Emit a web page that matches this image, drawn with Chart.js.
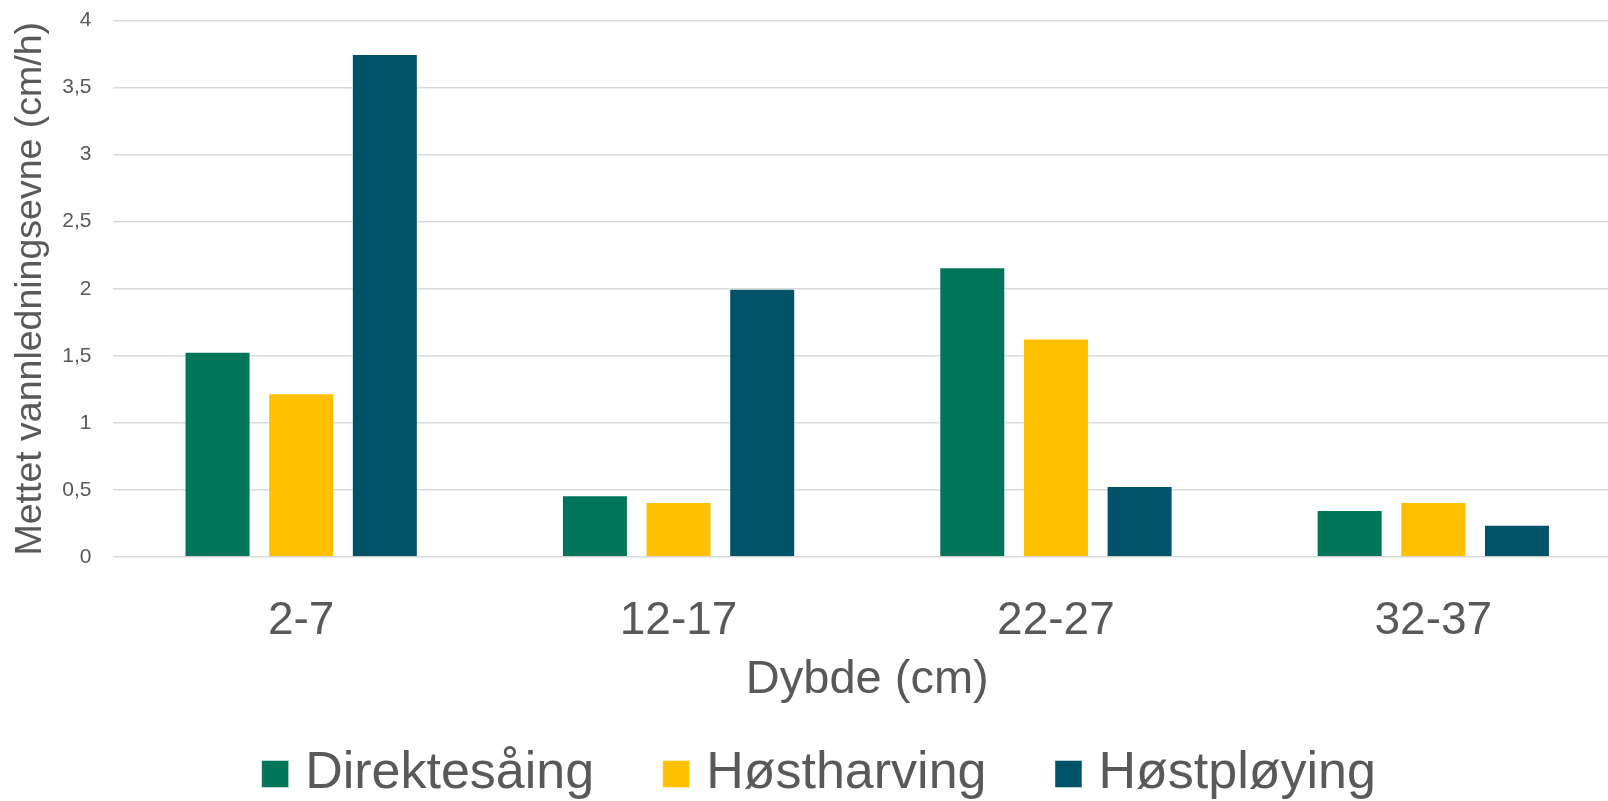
<!DOCTYPE html>
<html>
<head>
<meta charset="utf-8">
<script src="https://cdn.jsdelivr.net/npm/chart.js@4/dist/chart.umd.min.js"></script>
<style>
    html, body { margin: 0; padding: 0; background: #fff; overflow: hidden; }
    #wrap { width: 1647px; height: 801px; }
</style>
</head>
<body>
<div id="wrap"><canvas id="chart" width="1647" height="801"></canvas></div>
<script>
const depths = ['2-7', '12-17', '22-27', '32-37'];
const direktesaaing = [1.53, 0.46, 2.16, 0.35];
const hostharving = [1.22, 0.41, 1.63, 0.41];
const hostploying = [3.75, 2.0, 0.53, 0.24];
const yTickLabels = ['0', '0,5', '1', '1,5', '2', '2,5', '3', '3,5', '4'];

const font = '"Liberation Sans", Arial, sans-serif';
const textColor = '#595959';

function series(label, data, color) {
    return {
        label: label,
        data: data,
        backgroundColor: color,
        borderColor: 'rgba(255,255,255,0.45)',
        borderWidth: 1,
        categoryPercentage: 0.665,
        barPercentage: 0.789
    };
}

new Chart(document.getElementById('chart').getContext('2d'), {
    type: 'bar',
    data: {
        labels: depths,
        datasets: [
            series('Direktesåing', direktesaaing, '#00755A'),
            series('Høstharving', hostharving, '#FFC000'),
            series('Høstpløying', hostploying, '#005269')
        ]
    },
    options: {
        responsive: false,
        animation: false,
        layout: { padding: { top: 20.5, left: 0, right: 0, bottom: 0 } },
        scales: {
            x: {
                grid: { display: false },
                border: { display: false },
                ticks: { color: textColor, font: { family: font, size: 46 }, padding: 29 },
                title: {
                    display: true,
                    text: 'Dybde (cm)',
                    color: textColor,
                    font: { family: font, size: 47 },
                    padding: { top: 0, bottom: -38 }
                },
                afterFit: s => { s.height = 113; }
            },
            y: {
                min: 0,
                max: 4,
                border: { display: false },
                // transparent tick marks push the labels left without padding the top
                grid: { color: '#d9d9d9', lineWidth: 1.5, drawTicks: true, tickLength: 21, tickColor: 'transparent' },
                ticks: {
                    stepSize: 0.5,
                    padding: 0,
                    color: textColor,
                    font: { family: font, size: 21 },
                    callback: (v, i) => yTickLabels[i]
                },
                title: {
                    display: true,
                    text: 'Mettet vannledningsevne (cm/h)',
                    color: textColor,
                    font: { family: font, size: 37.5 },
                    padding: { top: 8, bottom: 0 }
                },
                afterFit: s => { s.width = 112.5; }
            },
            y2: {
                type: 'linear',
                position: 'right',
                grid: { display: false },
                border: { display: false },
                ticks: { display: false },
                afterFit: s => { s.width = 25; }
            }
        },
        plugins: {
            legend: {
                position: 'bottom',
                maxHeight: 131,
                labels: {
                    usePointStyle: true,
                    pointStyle: 'rect',
                    boxWidth: 8,
                    boxHeight: 27,
                    padding: 78,
                    color: textColor,
                    font: { family: font, size: 52 }
                }
            },
            tooltip: { enabled: false }
        }
    }
});
</script>
</body>
</html>
